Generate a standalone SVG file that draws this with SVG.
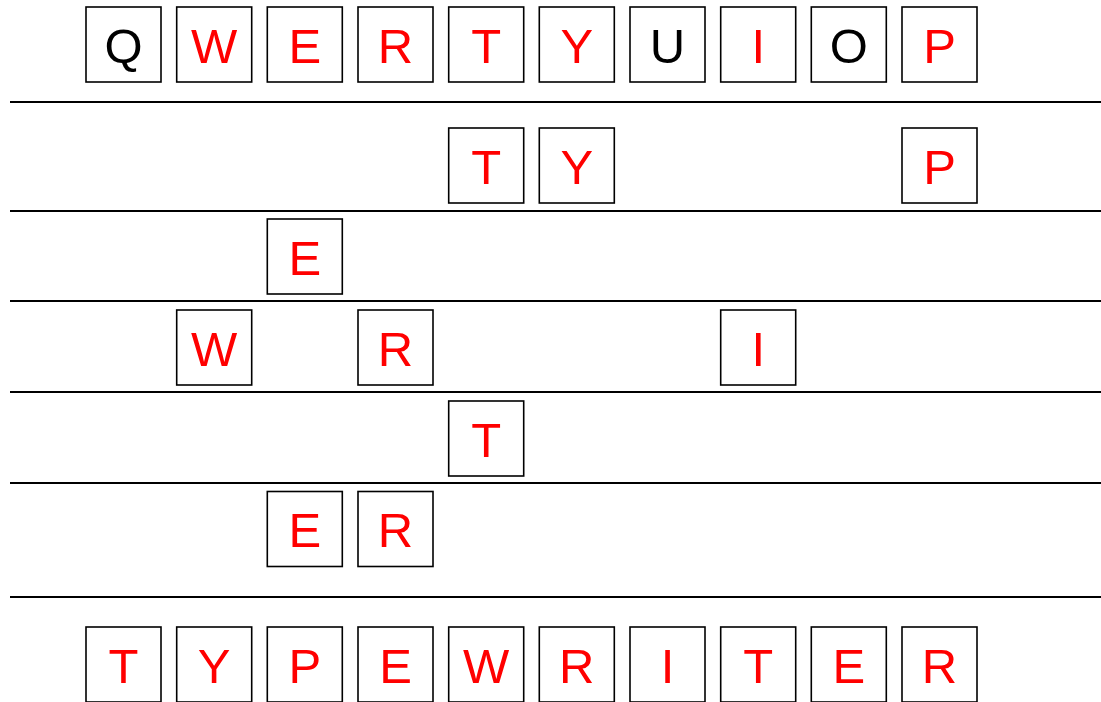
<svg xmlns="http://www.w3.org/2000/svg" width="1101" height="702" viewBox="0 0 1101 702">
<style>
.k rect{fill:#fff;stroke:#000;stroke-width:1.6}
.k text{font-family:"Liberation Sans",Arial,sans-serif;font-size:49px;text-anchor:middle;fill:#f00}
.k text.b{fill:#000}
.sep line{stroke:#000;stroke-width:2}
</style>
<rect width="1101" height="702" fill="#fff"/>
<g id="connectors" class="sep">
<line x1="10" y1="102" x2="1101" y2="102"/>
<line x1="10" y1="211" x2="1101" y2="211"/>
<line x1="10" y1="301" x2="1101" y2="301"/>
<line x1="10" y1="392" x2="1101" y2="392"/>
<line x1="10" y1="483" x2="1101" y2="483"/>
<line x1="10" y1="597" x2="1101" y2="597"/>
</g>
<g id="row1" class="k">
<g id="r1-Q"><rect x="86" y="7" width="75" height="75"/><text class="b" x="123.5" y="62.5">Q</text></g>
<g id="r1-W"><rect x="176.7" y="7" width="75" height="75"/><text x="214.2" y="62.5">W</text></g>
<g id="r1-E"><rect x="267.3" y="7" width="75" height="75"/><text x="304.8" y="62.5">E</text></g>
<g id="r1-R"><rect x="358" y="7" width="75" height="75"/><text x="395.5" y="62.5">R</text></g>
<g id="r1-T"><rect x="448.7" y="7" width="75" height="75"/><text x="486.2" y="62.5">T</text></g>
<g id="r1-Y"><rect x="539.3" y="7" width="75" height="75"/><text x="576.8" y="62.5">Y</text></g>
<g id="r1-U"><rect x="630" y="7" width="75" height="75"/><text class="b" x="667.5" y="62.5">U</text></g>
<g id="r1-I"><rect x="720.7" y="7" width="75" height="75"/><text x="758.2" y="62.5">I</text></g>
<g id="r1-O"><rect x="811.3" y="7" width="75" height="75"/><text class="b" x="848.8" y="62.5">O</text></g>
<g id="r1-P"><rect x="902" y="7" width="75" height="75"/><text x="939.5" y="62.5">P</text></g>
</g>
<g id="row2" class="k">
<g id="r2-T"><rect x="448.7" y="128" width="75" height="75"/><text x="486.2" y="183.5">T</text></g>
<g id="r2-Y"><rect x="539.3" y="128" width="75" height="75"/><text x="576.8" y="183.5">Y</text></g>
<g id="r2-P"><rect x="902" y="128" width="75" height="75"/><text x="939.5" y="183.5">P</text></g>
</g>
<g id="row3" class="k">
<g id="r3-E"><rect x="267.3" y="219" width="75" height="75"/><text x="304.8" y="274.5">E</text></g>
</g>
<g id="row4" class="k">
<g id="r4-W"><rect x="176.7" y="310" width="75" height="75"/><text x="214.2" y="365.5">W</text></g>
<g id="r4-R"><rect x="358" y="310" width="75" height="75"/><text x="395.5" y="365.5">R</text></g>
<g id="r4-I"><rect x="720.7" y="310" width="75" height="75"/><text x="758.2" y="365.5">I</text></g>
</g>
<g id="row5" class="k">
<g id="r5-T"><rect x="448.7" y="401" width="75" height="75"/><text x="486.2" y="456.5">T</text></g>
</g>
<g id="row6" class="k">
<g id="r6-E"><rect x="267.3" y="491.5" width="75" height="75"/><text x="304.8" y="547">E</text></g>
<g id="r6-R"><rect x="358" y="491.5" width="75" height="75"/><text x="395.5" y="547">R</text></g>
</g>
<g id="row7" class="k">
<g id="r7-T"><rect x="86" y="627" width="75" height="75"/><text x="123.5" y="682.5">T</text></g>
<g id="r7-Y"><rect x="176.7" y="627" width="75" height="75"/><text x="214.2" y="682.5">Y</text></g>
<g id="r7-P"><rect x="267.3" y="627" width="75" height="75"/><text x="304.8" y="682.5">P</text></g>
<g id="r7-E"><rect x="358" y="627" width="75" height="75"/><text x="395.5" y="682.5">E</text></g>
<g id="r7-W"><rect x="448.7" y="627" width="75" height="75"/><text x="486.2" y="682.5">W</text></g>
<g id="r7-R"><rect x="539.3" y="627" width="75" height="75"/><text x="576.8" y="682.5">R</text></g>
<g id="r7-I"><rect x="630" y="627" width="75" height="75"/><text x="667.5" y="682.5">I</text></g>
<g id="r7-T2"><rect x="720.7" y="627" width="75" height="75"/><text x="758.2" y="682.5">T</text></g>
<g id="r7-E2"><rect x="811.3" y="627" width="75" height="75"/><text x="848.8" y="682.5">E</text></g>
<g id="r7-R2"><rect x="902" y="627" width="75" height="75"/><text x="939.5" y="682.5">R</text></g>
</g>
</svg>
